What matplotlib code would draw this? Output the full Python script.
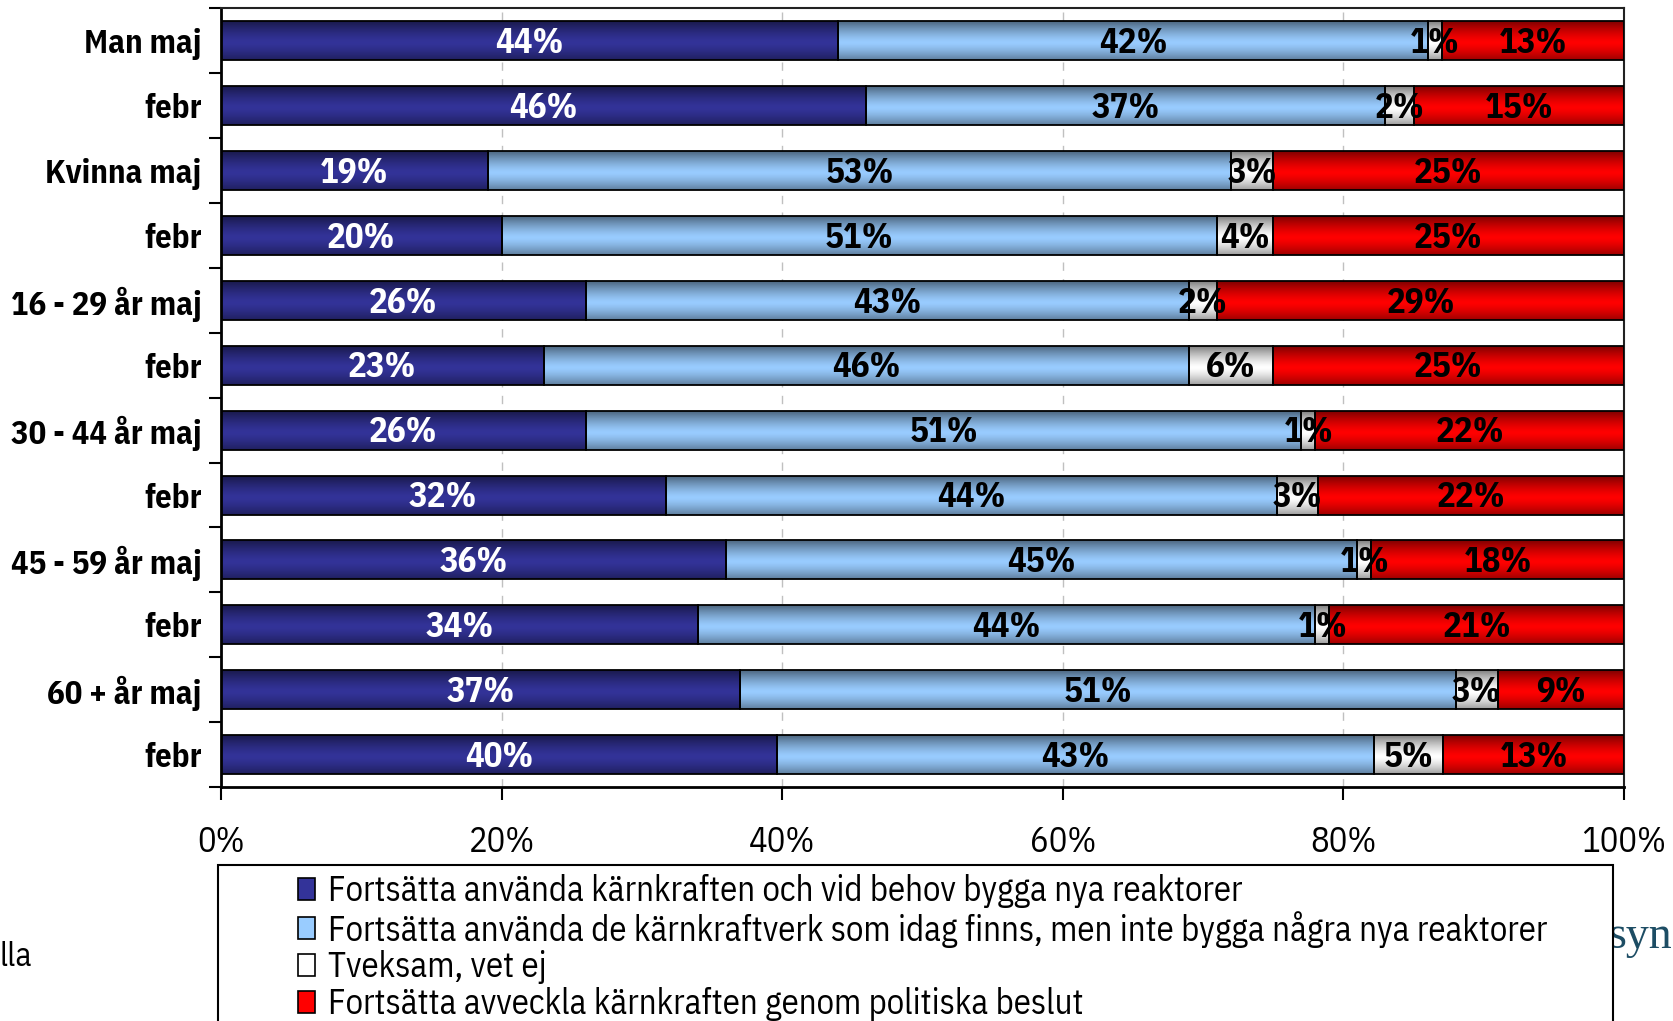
import numpy as np
import matplotlib
matplotlib.use('Agg')
import matplotlib.pyplot as plt
from matplotlib.patches import Patch, Rectangle
from matplotlib.colors import to_rgb

plt.rcParams['font.family'] = ['IBM Plex Sans Condensed', 'DejaVu Sans']

# Data (top to bottom)
categories = ['Man maj', 'febr', 'Kvinna maj', 'febr', '16 - 29 år maj', 'febr',
              '30 - 44 år maj', 'febr', '45 - 59 år maj', 'febr', '60 + år maj', 'febr']
bygga_nya = [44, 46, 19, 20, 26, 23, 26, 32, 36, 34, 37, 40]
inte_nya = [42, 37, 53, 51, 43, 46, 51, 44, 45, 44, 51, 43]
tveksam = [1, 2, 3, 4, 2, 6, 1, 3, 1, 1, 3, 5]
avveckla = [13, 15, 25, 25, 29, 25, 22, 22, 18, 21, 9, 13]

series_names = ['Fortsätta använda kärnkraften och vid behov bygga nya reaktorer',
                'Fortsätta använda de kärnkraftverk som idag finns, men inte bygga några nya reaktorer',
                'Tveksam, vet ej',
                'Fortsätta avveckla kärnkraften genom politiska beslut']
colors = ['#333399', '#99ccff', '#ffffff', '#ff0000']
text_colors = ['white', 'black', 'black', 'black']
xticks = [0, 0.2, 0.4, 0.6, 0.8, 1.0]
xtick_labels = ['0%', '20%', '40%', '60%', '80%', '100%']

values = np.array([bygga_nya, inte_nya, tveksam, avveckla], dtype=float)
shares = values / values.sum(axis=0)  # 100% stacked

n = len(categories)
ypos = np.arange(n)[::-1]

fig = plt.figure(figsize=(16.74, 10.21), dpi=100)
ax = fig.add_axes([221 / 1674, 1 - 787 / 1021, (1624 - 221) / 1674, (787 - 8.5) / 1021])


def shaded(patch, color):
    # vertical gradient: dark at the edges, bright in the middle
    t = np.linspace(0, 1, 64)
    m = 1 - 0.5 * np.abs(t - 0.45) ** 1.4 / 0.55 ** 1.4
    rgb = np.array(to_rgb(color))
    grad = (rgb[None, :] * m[:, None])[:, None, :]
    x0, y0 = patch.get_x(), patch.get_y()
    w, h = patch.get_width(), patch.get_height()
    im = ax.imshow(grad, extent=[x0, x0 + w, y0, y0 + h], origin='lower',
                   aspect='auto', zorder=2, interpolation='bilinear')
    im.set_clip_path(patch)


left = np.zeros(n)
for k in range(4):
    bars = ax.barh(ypos, shares[k], left=left, height=0.6, color=colors[k],
                   edgecolor='black', linewidth=1.3, zorder=3)
    for p in bars:
        shaded(p, colors[k])
        p.set_facecolor('none')
    for i in range(n):
        ax.text(left[i] + shares[k][i] / 2, ypos[i] - 0.04, f'{int(values[k][i])}%',
                ha='center', va='center', fontsize=25, fontweight='bold',
                color=text_colors[k], zorder=4)
    left = left + shares[k]

ax.set_xlim(0, 1)
ax.set_ylim(-0.5, n - 0.5)

ax.set_xticks(xticks)
ax.set_xticklabels(xtick_labels, fontsize=25)
ax.tick_params(axis='x', direction='out', length=9, width=1.5, pad=18)

ax.set_yticks(ypos)
ax.set_yticklabels(categories, fontsize=23.5, fontweight='bold')
ax.tick_params(axis='y', which='major', length=0, pad=14)
ax.set_yticks(np.arange(-0.5, n, 1.0), minor=True)
ax.tick_params(axis='y', which='minor', direction='out', length=9, width=1.5)

ax.xaxis.grid(True, color='#c0c0c0', linestyle=(0, (6, 6)), linewidth=1)
ax.set_axisbelow(True)
for s in ['left', 'bottom']:
    ax.spines[s].set_linewidth(2)
for s in ['top', 'right']:
    ax.spines[s].set_linewidth(1.5)
    ax.spines[s].set_color('#222222')

# legend box
fig.add_artist(Rectangle((218 / 1674, -0.05), (1613 - 218) / 1674, 0.05 + 1 - 865 / 1021,
                         transform=fig.transFigure, facecolor='white',
                         edgecolor='black', linewidth=1.5, zorder=1))
handles = [Patch(facecolor=c, edgecolor='black', linewidth=1.2) for c in colors]
fig.legend(handles, series_names, loc='upper left',
           bbox_to_anchor=(298 / 1674, 1 - 874 / 1021), frameon=False, fontsize=25,
           handlelength=0.5, handleheight=0.6, handletextpad=0.35,
           labelspacing=0.08, borderpad=0, borderaxespad=0)

fig.text(0.0, 1 - 957 / 1021, 'lla', fontsize=24, va='center', ha='left')
fig.text(1608 / 1674, 1 - 937 / 1021, 'syn', fontsize=33, va='center', ha='left',
         family=['Liberation Serif', 'DejaVu Serif'], color='#1d4d64', zorder=0)

fig.savefig('out.png', dpi=100)
